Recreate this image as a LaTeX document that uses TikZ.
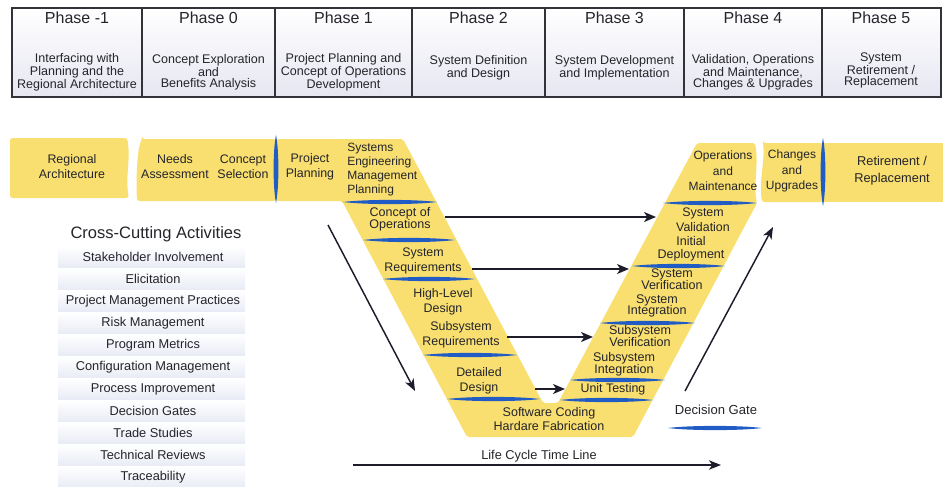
\documentclass[tikz,border=0pt]{standalone}
\usepackage{fontspec}
\setmainfont{Liberation Sans}
\usetikzlibrary{arrows.meta}

\definecolor{vyellow}{RGB}{248,223,112}
\definecolor{gateblue}{RGB}{32,92,196}
\definecolor{inkdark}{RGB}{36,36,42}
\definecolor{arrowink}{RGB}{28,28,42}
\definecolor{rowtint}{RGB}{233,236,245}
\definecolor{tabletint}{RGB}{230,230,242}
\definecolor{tableline}{RGB}{50,50,56}

% lens-shaped decision gates: horizontal {x1}{x2}{y}, vertical {x}{y1}{y2}
\newcommand\hgate[3]{\fill[gateblue] (#1,#3) .. controls +(22,-2.8) and +(-22,-2.8) .. (#2,#3)
  .. controls +(-22,2.8) and +(22,2.8) .. (#1,#3) -- cycle;}
\newcommand\vgate[3]{\fill[gateblue] (#1,#2) .. controls +(-3.2,16) and +(-3.2,-16) .. (#1,#3)
  .. controls +(3.2,-16) and +(3.2,16) .. (#1,#2) -- cycle;}

\begin{document}
\begin{tikzpicture}[x=0.75pt,y=-0.75pt,
  phasetitle/.style={font=\fontsize{12}{14}\selectfont, text=inkdark, inner sep=0},
  phasedesc/.style={font=\fontsize{9.4}{8.2}\selectfont, text=inkdark, align=center, inner sep=0},
  vlbl/.style={font=\fontsize{9.3}{11.2}\selectfont, text=inkdark, align=center, inner sep=0},
  vtight/.style={font=\fontsize{9.4}{8.8}\selectfont, text=inkdark, align=center, inner sep=0},
  vmid/.style={font=\fontsize{9.4}{9.8}\selectfont, text=inkdark, align=center, inner sep=0},
  ccitem/.style={font=\fontsize{9.6}{11}\selectfont, text=inkdark, inner sep=0},
  cctitle/.style={font=\fontsize{12.4}{14}\selectfont, text=inkdark, inner sep=0},
  flow/.style={draw=arrowink, line width=1.3pt, -{Stealth[length=9pt,width=7.5pt,inset=2.5pt]}},
  diag/.style={draw=arrowink, line width=1.1pt, -{Stealth[length=9pt,width=7pt,inset=2.5pt]}},
]
\useasboundingbox (0,0) rectangle (943,486);

% ---------- phase table ----------
\shade[top color=white, middle color=white, bottom color=tabletint] (12,8) rectangle (941,97);
\draw[tableline, line width=1.1pt] (12,8) rectangle (941,97);
\foreach \x in {142,275,412,545,684,822} \draw[tableline, line width=1.1pt] (\x,8) -- (\x,97);

\node[phasetitle] (ph1t) at (77,18)    {Phase -1};
\node[phasetitle] (ph0t) at (208.5,18) {Phase 0};
\node[phasetitle] (pha) at (343.5,18)  {Phase 1};
\node[phasetitle] (phb) at (478.5,18)  {Phase 2};
\node[phasetitle] (phc) at (614.5,18)  {Phase 3};
\node[phasetitle] (phd) at (753,18)    {Phase 4};
\node[phasetitle] (phe) at (881,18)    {Phase 5};

\node[phasedesc] (ph1d) at (77,72)    {Interfacing with\\Planning and the\\Regional Architecture};
\node[phasedesc] (ph0d) at (208.5,72) {Concept Exploration\\and\\Benefits Analysis};
\node[phasedesc] (phad) at (343.5,72) {Project Planning and\\Concept of Operations\\Development};
\node[phasedesc] (phbd) at (478.5,67.5) {System Definition\\and Design};
\node[phasedesc] (phcd) at (614.5,67.5) {System Development\\and Implementation};
\node[phasedesc] (phdd) at (753,72)   {Validation, Operations\\and Maintenance,\\Changes \& Upgrades};
\node[phasedesc] (phed) at (881,70)   {System\\Retirement /\\Replacement};

% ---------- yellow process band and V ----------
\fill[vyellow, rounded corners=2] (10,138) -- (127,138) .. controls (131,158) and (125,178) .. (129,198) -- (10,198) -- cycle;
\fill[vyellow, rounded corners=2] (142,139) -- (276,139) -- (276,201) -- (137,201) .. controls (136,180) and (137,150) .. (142,139) -- cycle;
\fill[vyellow, rounded corners=1.5] (276,139) -- (403,139) -- (543,403) -- (558,403) -- (697,143) -- (755,143)
  .. controls (759,165) and (753,185) .. (757,203) -- (633,437) -- (467,437) -- (342,201) -- (276,201) -- cycle;
\fill[vyellow, rounded corners=2] (763,143) -- (823,143) -- (823,202) -- (762,202) .. controls (759,180) and (765,160) .. (763,143) -- cycle;
\fill[vyellow] (823,143) rectangle (943,202);

% decision gates
\vgate{276}{135}{203}
\vgate{823}{138}{206}
\hgate{343}{437}{202}
\hgate{363}{455}{240}
\hgate{383}{475}{279}
\hgate{423}{517}{355}
\hgate{447}{540}{399}
\hgate{663}{757}{203}
\hgate{632}{725}{266}
\hgate{600}{695}{323}
\hgate{570}{665}{380}
\hgate{560}{653}{400}

% band labels
\node[vlbl] (regarch) at (72,167)    {Regional\\Architecture};
\node[vlbl] (needs)   at (175,166.5) {Needs\\Assessment};
\node[vlbl] (csel)    at (243,166.5) {Concept\\Selection};
\node[vlbl] (pplan)   at (310,166.5) {Project\\Planning};
\node[vlbl, align=left, anchor=west, font=\fontsize{9}{10.5}\selectfont] (semp) at (347,170)
  {Systems\\Engineering\\Management\\Planning};

% left arm
\node[vtight] (conops) at (400,219) {Concept of\\Operations};
\node[vlbl]   (sysreq) at (423,261) {System\\Requirements};
\node[vlbl]   (hld)    at (443,302) {High-Level\\Design};
\node[vlbl]   (ssreq)  at (461,335) {Subsystem\\Requirements};
\node[vlbl]   (ddes)   at (479,381) {Detailed\\Design};
\node[vmid]   (swcode) at (549,419) {Software Coding\\Hardare Fabrication};

% right arm
\node[vlbl]   (unittest) at (613,389) {Unit Testing};
\node[vtight] (ssver)    at (640,336) {Subsystem\\Verification};
\node[vtight] (ssint)    at (624,364) {Subsystem\\Integration};
\node[vtight] (sysver)   at (672,279) {System\\Verification};
\node[vtight] (sysint)   at (657,306) {System\\Integration};
\node[vlbl]   (sysval)   at (703,220) {System\\Validation};
\node[vmid]   (initdep)  at (691,249) {Initial\\Deployment};
\node[vlbl, font=\fontsize{9}{11.6}\selectfont] (om)  at (723,171) {Operations\\and\\Maintenance};
\node[vlbl, font=\fontsize{9}{11.6}\selectfont] (chg) at (792,171) {Changes\\and\\Upgrades};
\node[vlbl, font=\fontsize{9.6}{12.6}\selectfont] (retire) at (892,171) {Retirement /\\Replacement};

% verification arrows across the V
\coordinate (a1s) at (445,217); \coordinate (a1e) at (656,217);
\coordinate (a2s) at (472,269); \coordinate (a2e) at (629,269);
\coordinate (a3s) at (507,337); \coordinate (a3e) at (593,337);
\coordinate (a4s) at (535,389); \coordinate (a4e) at (565,389);
\draw[flow] (a1s) -- (a1e);
\draw[flow] (a2s) -- (a2e);
\draw[flow] (a3s) -- (a3e);
\draw[flow] (a4s) -- (a4e);

% decomposition and integration directions
\coordinate (d1s) at (328,225); \coordinate (d1e) at (415,391);
\coordinate (d2s) at (685,391); \coordinate (d2e) at (773,227);
\draw[diag] (d1s) -- (d1e);
\draw[diag] (d2s) -- (d2e);

% time line
\coordinate (tls) at (353,465); \coordinate (tle) at (721,465);
\draw[diag, line width=1.2pt] (tls) -- (tle);
\node[font=\fontsize{9.6}{11}\selectfont, text=inkdark, inner sep=0] (tllbl) at (539,456) {Life Cycle Time Line};

% legend
\node[font=\fontsize{9.8}{11}\selectfont, text=inkdark, inner sep=0] (dglbl) at (716,410) {Decision Gate};
\hgate{668}{762}{428}

% ---------- cross-cutting activities ----------
\node[cctitle] (cca) at (156,234) {Cross-Cutting Activities};
\foreach \t [count=\i] in {Stakeholder Involvement, Elicitation, Project Management Practices,
    Risk Management, Program Metrics, Configuration Management, Process Improvement,
    Decision Gates, Trade Studies, Technical Reviews, Traceability} {
  \pgfmathsetmacro\yy{235+22*\i}
  \shade[top color=white, bottom color=rowtint] (58,\yy-10.5) rectangle (245,\yy+10.2);
  \node[ccitem] (cc\i) at (153,\yy) {\t};
}
\end{tikzpicture}
\end{document}
